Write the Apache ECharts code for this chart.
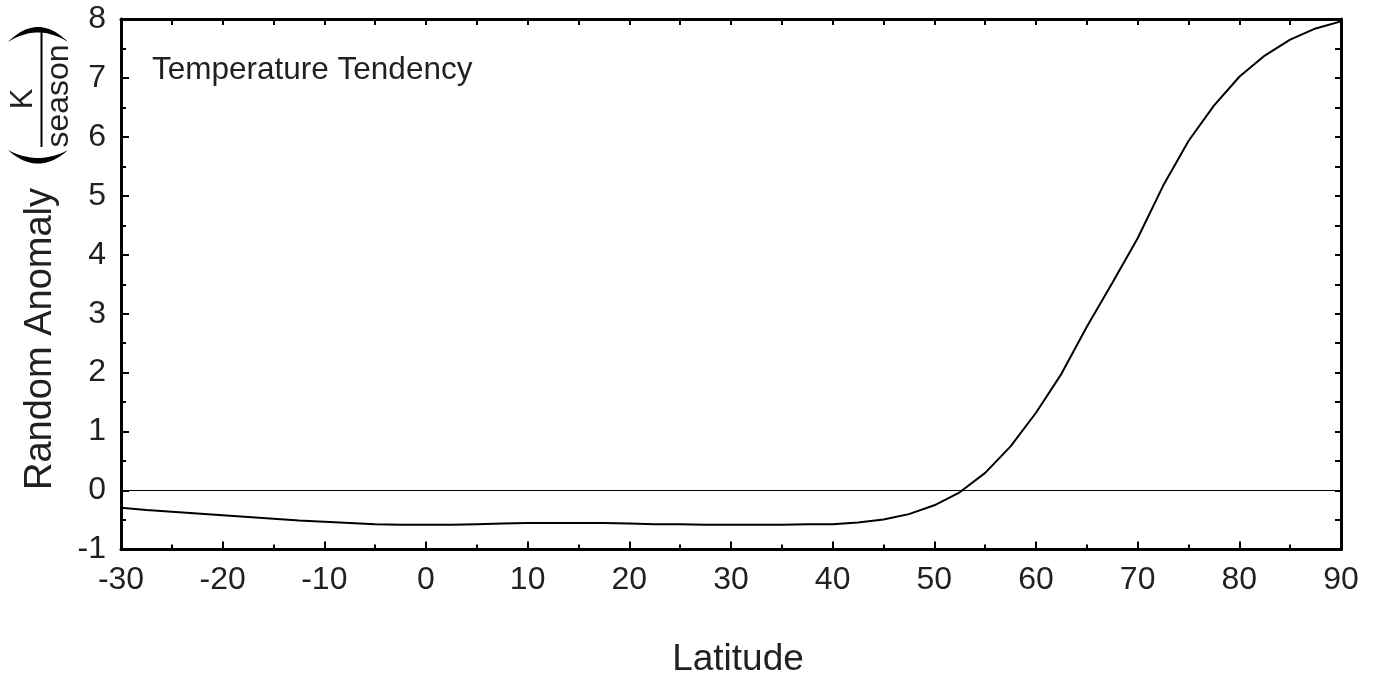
<!DOCTYPE html>
<html>
<head>
<meta charset="utf-8">
<script src="https://cdn.jsdelivr.net/npm/echarts@6/dist/echarts.min.js"></script>
<style>html,body{margin:0;padding:0;background:#fff;}#c{width:1377px;height:678px;}</style>
</head>
<body>
<div id="c"></div>
<script>
const latitudes = [-30,-27.5,-25,-22.5,-20,-17.5,-15,-12.5,-10,-7.5,-5,-2.5,0,2.5,5,7.5,10,12.5,15,17.5,20,22.5,25,27.5,30,32.5,35,37.5,40,42.5,45,47.5,50,52.5,55,57.5,60,62.5,65,67.5,70,72.5,75,77.5,80,82.5,85,87.5,90];
const anomaly = [-0.29,-0.33,-0.36,-0.39,-0.42,-0.45,-0.48,-0.51,-0.53,-0.55,-0.57,-0.58,-0.58,-0.58,-0.57,-0.56,-0.55,-0.55,-0.55,-0.55,-0.56,-0.57,-0.57,-0.58,-0.58,-0.58,-0.58,-0.57,-0.57,-0.54,-0.49,-0.40,-0.25,-0.03,0.30,0.75,1.32,1.98,2.78,3.52,4.28,5.17,5.93,6.53,7.02,7.38,7.65,7.84,7.96];
const xTicks = {min:-30, max:90, step:10};
const yTicks = {min:-1, max:8, step:1};
const labelText = 'Temperature Tendency';
const xName = 'Latitude';
const yName = 'Random Anomaly';
const unitNum = 'K';
const unitDen = 'season';

const FONT = '"Liberation Sans", Arial, sans-serif';
const TXT = '#231f20';

// crescent-shaped bracket built from two quadratic curves (decoration only)
function crescent(x0, x1, yEnd, yOuter, yInner) {
  const pts = [];
  const cx = (x0 + x1) / 2;
  const N = 24;
  for (let i = 0; i <= N; i++) {
    const t = i / N;
    pts.push([(1-t)*(1-t)*x0 + 2*(1-t)*t*cx + t*t*x1, (1-t)*(1-t)*yEnd + 2*(1-t)*t*yOuter + t*t*yEnd]);
  }
  for (let i = N; i >= 0; i--) {
    const t = i / N;
    pts.push([(1-t)*(1-t)*x0 + 2*(1-t)*t*cx + t*t*x1, (1-t)*(1-t)*yEnd + 2*(1-t)*t*yInner + t*t*yEnd]);
  }
  return pts;
}

const chart = echarts.init(document.getElementById('c'), null, {renderer:'canvas'});
const axisLine = {show:true, onZero:false, lineStyle:{color:'#000', width:3}};
chart.setOption({
  animation:false,
  backgroundColor:'#fff',
  grid:{left:121, right:36, top:19, bottom:128.5, containLabel:false, outerBoundsMode:'none'},
  xAxis:[
    {type:'value', position:'bottom', min:xTicks.min, max:xTicks.max, interval:xTicks.step,
     axisLine:axisLine,
     axisTick:{show:true, inside:true, length:8, lineStyle:{color:'#000', width:2}},
     minorTick:{show:true, splitNumber:2, length:5, lineStyle:{color:'#000', width:2}},
     splitLine:{show:false},
     axisLabel:{show:true, margin:15, fontSize:32, fontFamily:FONT, color:TXT},
     name:xName, nameLocation:'middle', nameGap:92,
     nameTextStyle:{fontSize:37, fontFamily:FONT, color:TXT, padding:[0,0,0,14]}},
    {type:'value', position:'top', min:xTicks.min, max:xTicks.max, interval:xTicks.step/2,
     axisLine:axisLine,
     axisTick:{show:true, inside:true, length:6, lineStyle:{color:'#000', width:2}},
     splitLine:{show:false}, axisLabel:{show:false}}
  ],
  yAxis:[
    {type:'value', position:'left', min:yTicks.min, max:yTicks.max, interval:yTicks.step,
     axisLine:axisLine,
     axisTick:{show:true, inside:true, length:8, lineStyle:{color:'#000', width:2}},
     minorTick:{show:true, splitNumber:2, length:5, lineStyle:{color:'#000', width:2}},
     splitLine:{show:false},
     axisLabel:{show:true, margin:15, fontSize:32, fontFamily:FONT, color:TXT}},
    {type:'value', position:'right', min:yTicks.min, max:yTicks.max, interval:yTicks.step/2,
     axisLine:axisLine,
     axisTick:{show:true, inside:true, length:6, lineStyle:{color:'#000', width:2}},
     splitLine:{show:false}, axisLabel:{show:false}}
  ],
  series:[{
    type:'line', xAxisIndex:0, yAxisIndex:0,
    data: latitudes.map((x,i)=>[x, anomaly[i]]),
    showSymbol:false, symbol:'none', smooth:false,
    lineStyle:{color:'#000', width:2},
    markLine:{silent:true, symbol:'none', label:{show:false},
      lineStyle:{color:'#000', width:1.2, type:'solid'},
      data:[{yAxis:0}]}
  }],
  graphic:[
    {type:'text', x:152, y:70, style:{text:labelText, fontSize:31.5, fontFamily:FONT, fill:TXT, align:'left', verticalAlign:'middle'}},
    {type:'text', x:41, y:339, rotation:Math.PI/2, style:{text:yName, fontSize:38, fontFamily:FONT, fill:TXT, align:'center', verticalAlign:'middle'}},
    {type:'text', x:23, y:99, rotation:Math.PI/2, style:{text:unitNum, fontSize:31, fontFamily:FONT, fill:TXT, align:'center', verticalAlign:'middle'}},
    {type:'text', x:59, y:96, rotation:Math.PI/2, style:{text:unitDen, fontSize:32, fontFamily:FONT, fill:TXT, align:'center', verticalAlign:'middle'}},
    {type:'line', shape:{x1:41.5, y1:32, x2:41.5, y2:147}, style:{stroke:'#000', lineWidth:2}},
    {type:'polygon', shape:{points:crescent(8, 68, 150, 177, 166)}, style:{fill:'#000'}},
    {type:'polygon', shape:{points:crescent(8, 68, 42, 12, 23)}, style:{fill:'#000'}}
  ]
});
</script>
</body>
</html>
